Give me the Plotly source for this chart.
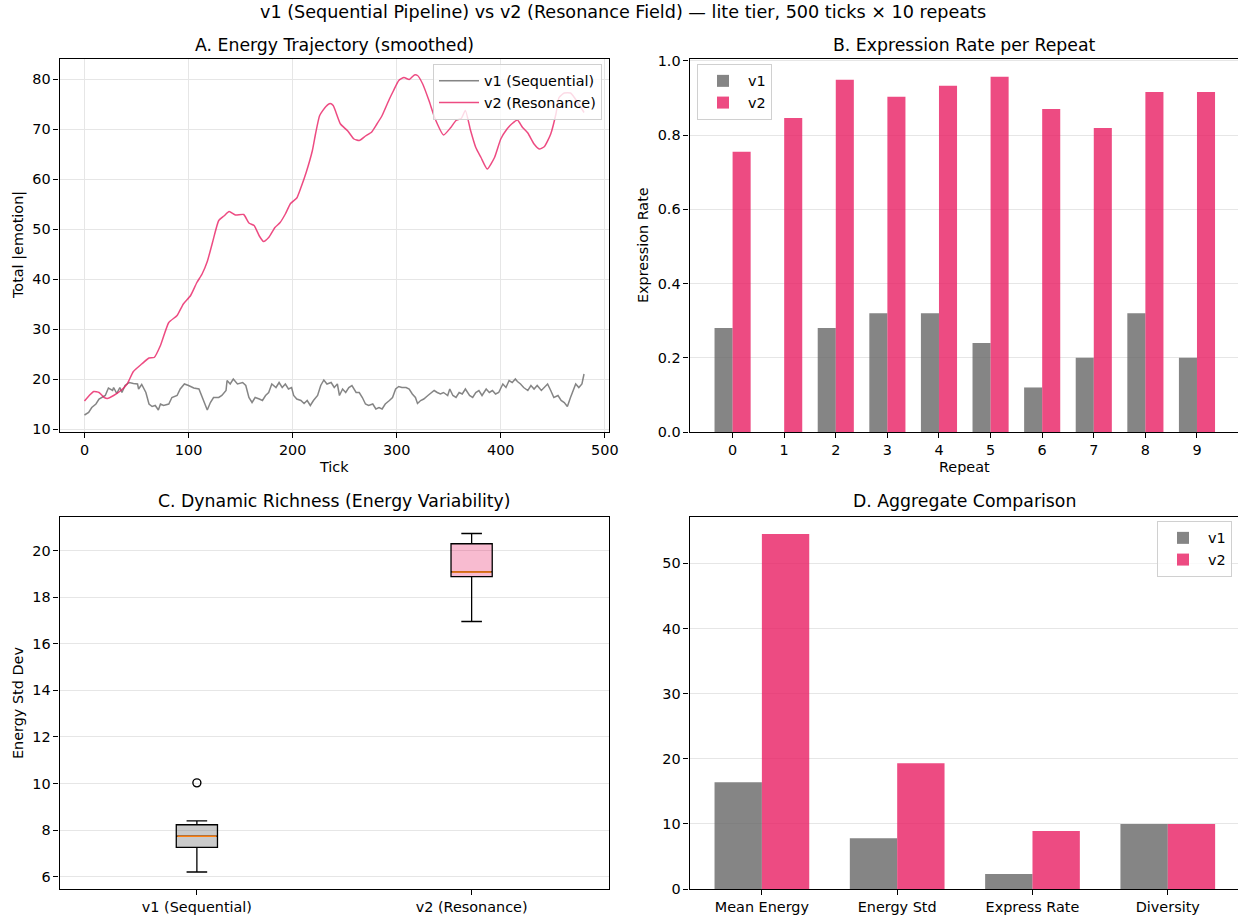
import plotly.graph_objects as go

# ---------------- data ----------------
# A. smoothed energy trajectory (tick, value)
v1_ticks = [0, 4, 7, 11, 14, 17, 20, 23, 27, 28, 31, 34, 36, 39, 43, 47, 51, 52, 55, 59,
            62, 65, 68, 71, 73, 76, 81, 84, 89, 92, 96, 100, 105, 110, 113, 118, 121, 124, 129, 132,
            136, 137, 140, 143, 147, 152, 155, 158, 161, 164, 168, 171, 174, 177, 180, 184, 187, 190, 193, 196,
            199, 201, 204, 208, 211, 214, 217, 220, 224, 227, 230, 233, 237, 240, 243, 245, 248, 251, 254, 257,
            261, 264, 267, 270, 273, 277, 280, 283, 286, 289, 293, 296, 299, 302, 305, 309, 312, 315, 318, 320,
            323, 326, 330, 333, 336, 339, 342, 345, 349, 351, 354, 357, 360, 363, 366, 370, 373, 376, 379, 382,
            386, 389, 392, 395, 398, 402, 405, 408, 411, 414, 416, 419, 422, 426, 429, 432, 435, 439, 442, 445,
            448, 451, 455, 458, 461, 464, 467, 470, 472, 475, 478, 480]
v1_energy = [12.8, 13.3, 14.3, 15.0, 16.0, 16.3, 16.7, 18.2, 17.7, 18.3, 17.1, 18.3, 17.3, 18.7, 19.3, 19.1, 19.0, 18.0, 18.9, 17.3,
             15.0, 14.5, 14.7, 13.8, 15.0, 14.7, 15.0, 16.3, 16.7, 18.0, 19.0, 18.7, 18.2, 18.0, 16.3, 13.8, 15.3, 16.3, 16.3, 16.7,
             17.7, 19.7, 19.0, 20.0, 19.0, 19.3, 18.7, 16.3, 15.3, 16.3, 16.0, 15.7, 16.7, 17.3, 19.0, 18.3, 19.3, 18.3, 19.0, 18.0,
             18.3, 16.7, 16.0, 15.7, 15.1, 15.7, 14.7, 15.7, 16.7, 18.7, 19.8, 19.0, 19.3, 18.3, 19.0, 16.7, 18.0, 17.3, 18.3, 18.7,
             17.3, 17.3, 16.3, 15.0, 14.7, 15.0, 14.0, 14.3, 14.0, 15.0, 15.7, 16.3, 18.0, 18.5, 18.3, 18.3, 18.0, 17.0, 16.3, 15.1,
             15.7, 16.0, 16.7, 17.3, 17.7, 17.3, 17.0, 17.3, 16.7, 18.0, 16.7, 16.3, 17.3, 17.0, 18.0, 16.7, 16.3, 17.3, 17.7, 16.7,
             18.0, 17.3, 17.7, 17.0, 17.3, 19.0, 18.3, 19.7, 19.3, 20.0, 19.5, 19.0, 18.3, 17.7, 18.7, 18.0, 18.7, 17.7, 18.3, 19.0,
             17.7, 16.3, 16.7, 15.7, 15.3, 14.5, 16.3, 18.0, 19.0, 18.3, 19.0, 21.0]

v2_ticks = [0, 5, 9, 14, 19, 22, 28, 35, 41, 47, 55, 62, 67, 73, 81, 89, 95, 102, 108, 113,
            118, 123, 129, 134, 139, 145, 153, 158, 163, 168, 172, 177, 183, 188, 193, 198, 204, 208, 213, 219,
            222, 226, 232, 236, 239, 246, 253, 259, 264, 270, 276, 281, 286, 293, 297, 302, 307, 312, 317, 320,
            325, 331, 337, 345, 352, 357, 362, 366, 371, 376, 381, 387, 394, 400, 406, 411, 416, 421, 426, 432,
            437, 442, 448, 453, 456, 461, 467, 474, 480]
v2_energy = [15.6, 16.8, 17.5, 17.3, 16.3, 16.1, 16.7, 17.7, 19.0, 21.5, 23.0, 24.2, 24.3, 26.7, 31.3, 32.7, 35.0, 36.7, 39.3, 41.0,
             43.5, 47.3, 51.7, 52.6, 53.5, 52.8, 52.9, 51.2, 50.7, 48.6, 47.5, 48.3, 50.3, 51.3, 53.0, 55.1, 56.2, 58.3, 61.3, 65.7,
             69.0, 72.7, 74.5, 75.1, 74.7, 71.0, 69.6, 68.0, 67.7, 68.6, 69.4, 71.0, 72.7, 76.0, 77.7, 79.7, 80.3, 79.9, 80.8, 80.7,
             79.0, 75.7, 72.0, 68.8, 70.3, 71.7, 72.1, 73.7, 69.7, 66.3, 64.3, 62.0, 64.3, 68.0, 70.0, 71.1, 71.8, 70.3, 69.2, 67.0,
             66.0, 66.5, 69.0, 73.0, 76.3, 77.2, 77.2, 75.3, 73.3]

# B. expression rate per repeat
repeats = list(range(10))
v1_rate = [0.28, 0.00, 0.28, 0.32, 0.32, 0.24, 0.12, 0.20, 0.32, 0.20]
v2_rate = [0.755, 0.846, 0.949, 0.903, 0.933, 0.957, 0.870, 0.819, 0.916, 0.916]

# C. energy std dev box statistics (lower whisker, q1, median, q3, upper whisker)
box_labels = ["v1 (Sequential)", "v2 (Resonance)"]
box_low = [6.20, 16.96]
box_q1 = [7.26, 18.89]
box_median = [7.74, 19.09]
box_q3 = [8.23, 20.30]
box_high = [8.40, 20.74]
v1_outliers = [10.03]

# D. aggregate comparison
metrics = ["Mean Energy", "Energy Std", "Express Rate", "Diversity"]
v1_agg = [16.4, 7.8, 2.3, 10.0]
v2_agg = [54.5, 19.3, 8.9, 10.0]

# ---------------- styling ----------------
W, H = 1238, 917
FONT = "DejaVu Sans"
C_V1 = "rgba(102,102,102,0.8)"
C_V2 = "rgba(233,30,99,0.8)"
GRID = "#e6e6e6"
TICK_SIZE = 14.4
TITLE_SIZE = 17.3


def px(x):
    return x / W


def py(y):
    return 1 - y / H


fig = go.Figure()

# A: trajectories
fig.add_trace(go.Scatter(x=v1_ticks, y=v1_energy, mode="lines", name="v1 (Sequential)",
                         line=dict(color=C_V1, width=1.5), xaxis="x", yaxis="y", legend="legend"))
fig.add_trace(go.Scatter(x=v2_ticks, y=v2_energy, mode="lines", name="v2 (Resonance)",
                         line=dict(color=C_V2, width=1.5, shape="spline", smoothing=0.5),
                         xaxis="x", yaxis="y", legend="legend"))

# B: grouped bars
fig.add_trace(go.Bar(x=repeats, y=v1_rate, name="v1", marker=dict(color=C_V1, line_width=0),
                     xaxis="x2", yaxis="y2", legend="legend2", offsetgroup="a"))
fig.add_trace(go.Bar(x=repeats, y=v2_rate, name="v2", marker=dict(color=C_V2, line_width=0),
                     xaxis="x2", yaxis="y2", legend="legend2", offsetgroup="b"))

# C: box plots
box_pos = [1, 2]
box_fill = ["rgba(102,102,102,0.35)", "rgba(233,30,99,0.3)"]
BOX_W = 0.15
for i in range(2):
    fig.add_trace(go.Box(x=[box_pos[i]], q1=[box_q1[i]], median=[box_median[i]], q3=[box_q3[i]],
                         lowerfence=[box_low[i]], upperfence=[box_high[i]],
                         width=BOX_W, whiskerwidth=0.5, fillcolor=box_fill[i],
                         line=dict(color="black", width=1.3), boxpoints=False,
                         showlegend=False, xaxis="x3", yaxis="y3", hoverinfo="skip"))
    fig.add_trace(go.Scatter(x=[box_pos[i] - BOX_W / 2 + 0.004, box_pos[i] + BOX_W / 2 - 0.004],
                             y=[box_median[i], box_median[i]], mode="lines",
                             line=dict(color="#ff7f0e", width=1.5), showlegend=False,
                             xaxis="x3", yaxis="y3"))
fig.add_trace(go.Scatter(x=[box_pos[0]] * len(v1_outliers), y=v1_outliers, mode="markers",
                         marker=dict(symbol="circle-open", size=8, color="black", line=dict(width=1.4)),
                         showlegend=False, xaxis="x3", yaxis="y3"))

# D: aggregate bars
fig.add_trace(go.Bar(x=list(range(len(metrics))), y=v1_agg, name="v1", marker=dict(color=C_V1, line_width=0),
                     xaxis="x4", yaxis="y4", legend="legend3", offsetgroup="a"))
fig.add_trace(go.Bar(x=list(range(len(metrics))), y=v2_agg, name="v2", marker=dict(color=C_V2, line_width=0),
                     xaxis="x4", yaxis="y4", legend="legend3", offsetgroup="b"))

tickfont = dict(family=FONT, size=TICK_SIZE, color="black")
axis_common = dict(showline=True, mirror=True, linecolor="black", linewidth=1.1,
                   ticks="outside", ticklen=5, tickwidth=1.1, tickcolor="black",
                   tickfont=tickfont, zeroline=False, showgrid=False, automargin=False)
y_grid = {**axis_common, "showgrid": True, "gridcolor": GRID}
# right-column panels run past the page edge, so their right spine is not drawn
y_grid_open = {**y_grid, "mirror": False}

left_dom = [px(59.5), px(609)]
right_dom = [px(689.5), 1.0]
top_dom = [py(432), py(59)]
bot_dom = [py(889), py(516.5)]

legend_style = dict(bgcolor="rgba(255,255,255,0.8)", bordercolor="#d0d0d0", borderwidth=1,
                    font=dict(family=FONT, size=TICK_SIZE, color="black"), xref="paper", yref="paper",
                    tracegroupgap=0, itemwidth=40)

fig.update_layout(
    width=W, height=H, autosize=False,
    margin=dict(l=0, r=0, t=0, b=0, pad=0, autoexpand=False),
    paper_bgcolor="white", plot_bgcolor="white",
    font=dict(family=FONT, size=TICK_SIZE, color="black"),
    barmode="group", bargap=0.3, bargroupgap=0,
    xaxis=dict(domain=left_dom, anchor="y", range=[-24, 504], tickvals=[0, 100, 200, 300, 400, 500],
               **{**axis_common, "showgrid": True, "gridcolor": GRID}),
    yaxis=dict(domain=top_dom, anchor="x", range=[9.4, 84.0], tickvals=[10, 20, 30, 40, 50, 60, 70, 80],
               **y_grid),
    xaxis2=dict(domain=right_dom, anchor="y2", range=[-0.835, 9.795], tickvals=repeats, **axis_common),
    yaxis2=dict(domain=top_dom, anchor="x2", range=[0, 1.005], tickvals=[0, 0.2, 0.4, 0.6, 0.8, 1.0],
                tickformat=".1f", **y_grid_open),
    xaxis3=dict(domain=left_dom, anchor="y3", range=[0.5, 2.5], tickvals=box_pos, ticktext=box_labels,
                **axis_common),
    yaxis3=dict(domain=bot_dom, anchor="x3", range=[5.47, 21.47], tickvals=[6, 8, 10, 12, 14, 16, 18, 20],
                **y_grid),
    xaxis4=dict(domain=right_dom, anchor="y4", range=[-0.535, 3.519], tickvals=list(range(len(metrics))),
                ticktext=metrics, **axis_common),
    yaxis4=dict(domain=bot_dom, anchor="x4", range=[0, 57.2], tickvals=[0, 10, 20, 30, 40, 50],
                **y_grid_open),
    legend=dict(x=px(602), y=py(64), xanchor="right", yanchor="top", **legend_style),
    legend2=dict(x=px(697), y=py(64), xanchor="left", yanchor="top", **legend_style),
    legend3=dict(x=px(1232), y=py(521), xanchor="right", yanchor="top", **legend_style),
)


def label(text, x, y, size=TICK_SIZE, angle=0):
    fig.add_annotation(text=text, x=px(x), y=py(y), xref="paper", yref="paper",
                       xanchor="center", yanchor="middle", showarrow=False, textangle=angle,
                       font=dict(family=FONT, size=size, color="black"))


label("v1 (Sequential Pipeline) vs v2 (Resonance Field) — lite tier, 500 ticks × 10 repeats", 623, 12, size=17.6)
label("A. Energy Trajectory (smoothed)", 334, 45, size=TITLE_SIZE)
label("B. Expression Rate per Repeat", 964, 45, size=TITLE_SIZE)
label("C. Dynamic Richness (Energy Variability)", 334, 501, size=TITLE_SIZE)
label("D. Aggregate Comparison", 964, 501, size=TITLE_SIZE)
label("Tick", 334, 467)
label("Repeat", 964, 467)
label("Total |emotion|", 18, 245, angle=-90)
label("Expression Rate", 643, 245, angle=-90)
label("Energy Std Dev", 18, 703, angle=-90)

fig.write_html("out.html",
               post_script="document.body.style.margin='0';document.body.style.overflow='hidden';")
